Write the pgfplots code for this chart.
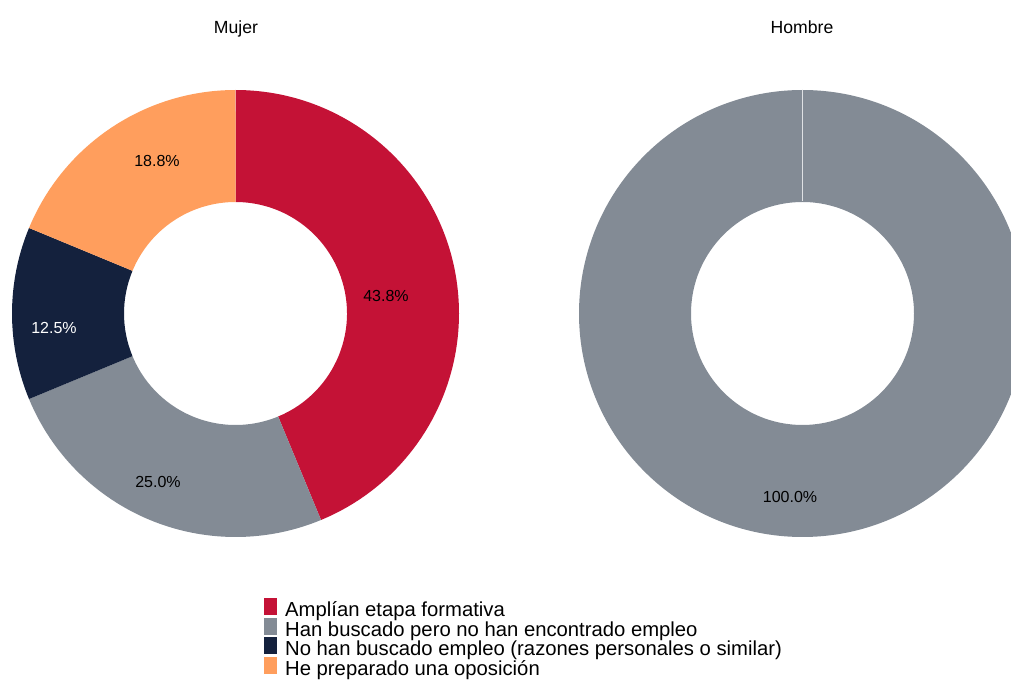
\documentclass[border=0pt]{standalone}
\usepackage{fontspec}
\setmainfont{Liberation Sans}
\usepackage{pgfplots}
\pgfplotsset{compat=1.18}

\definecolor{cRed}{HTML}{C41236}
\definecolor{cGray}{HTML}{838B95}
\definecolor{cNavy}{HTML}{14213D}
\definecolor{cOrange}{HTML}{FF9E5D}

% donut slice: centre x, centre y (axis units = px), start %, share %, colour
\newcommand{\slice}[5]{%
  \fill[#5] (axis cs:{#1+223.5*cos(90-3.6*#3)},{#2+223.5*sin(90-3.6*#3)})
    arc[start angle={90-3.6*#3}, end angle={90-3.6*(#3+#4)}, radius=167.625pt]
    -- (axis cs:{#1+111.5*cos(90-3.6*(#3+#4))},{#2+111.5*sin(90-3.6*(#3+#4))})
    arc[start angle={90-3.6*(#3+#4)}, end angle={90-3.6*#3}, radius=83.625pt]
    -- cycle;
}

\begin{document}
\begin{tikzpicture}
\begin{axis}[
    x=0.75pt, y=0.75pt,
    xmin=0, xmax=1011, ymin=0, ymax=679,
    hide axis,
    clip=true,
    legend style={
        draw=none, fill=none, inner sep=0pt,
        at={(axis cs:264,81)}, anchor=north west,
        font=\fontsize{15.2}{15.2}\selectfont,
        row sep=-1.3pt,
        nodes={inner ysep=0pt, text height=0.75em, text depth=0.2em},
        cells={anchor=west},
    },
]
% Mujer
\slice{235.5}{365.5}{0}{43.75}{cRed}
\slice{235.5}{365.5}{43.75}{25}{cGray}
\slice{235.5}{365.5}{68.75}{12.5}{cNavy}
\slice{235.5}{365.5}{81.25}{18.75}{cOrange}
% Hombre
\slice{802.5}{365.5}{0}{100}{cGray}
\draw[white, opacity=0.75, line width=0.75pt] (axis cs:802.5,589) -- (axis cs:802.5,477.5);

\node[font=\fontsize{13.2}{13.2}\selectfont, anchor=base] at (axis cs:236,645) {Mujer};
\node[font=\fontsize{13.2}{13.2}\selectfont, anchor=base] at (axis cs:802,645) {Hombre};

\begin{scope}[every node/.style={font=\fontsize{12}{12}\selectfont}]
\node at (axis cs:386,383) {43.8\%};
\node at (axis cs:158,197) {25.0\%};
\node[white] at (axis cs:54,351) {12.5\%};
\node at (axis cs:157,518) {18.8\%};
\node at (axis cs:790,182) {100.0\%};
\end{scope}

\addlegendimage{legend image code/.code={\path[draw=none] (0pt,0pt) -- (13.5pt,0pt);\fill[cRed] (0pt,-1pt) rectangle (8.5pt,11pt);}}
\addlegendimage{legend image code/.code={\path[draw=none] (0pt,0pt) -- (13.5pt,0pt);\fill[cGray] (0pt,-1pt) rectangle (8.5pt,11pt);}}
\addlegendimage{legend image code/.code={\path[draw=none] (0pt,0pt) -- (13.5pt,0pt);\fill[cNavy] (0pt,-1pt) rectangle (8.5pt,11pt);}}
\addlegendimage{legend image code/.code={\path[draw=none] (0pt,0pt) -- (13.5pt,0pt);\fill[cOrange] (0pt,-1pt) rectangle (8.5pt,11pt);}}
\legend{Amplían etapa formativa,
        Han buscado pero no han encontrado empleo,
        No han buscado empleo (razones personales o similar),
        He preparado una oposición}
\end{axis}
\pgfresetboundingbox
\useasboundingbox (current axis.south west) rectangle (current axis.north east);
\end{tikzpicture}
\end{document}
